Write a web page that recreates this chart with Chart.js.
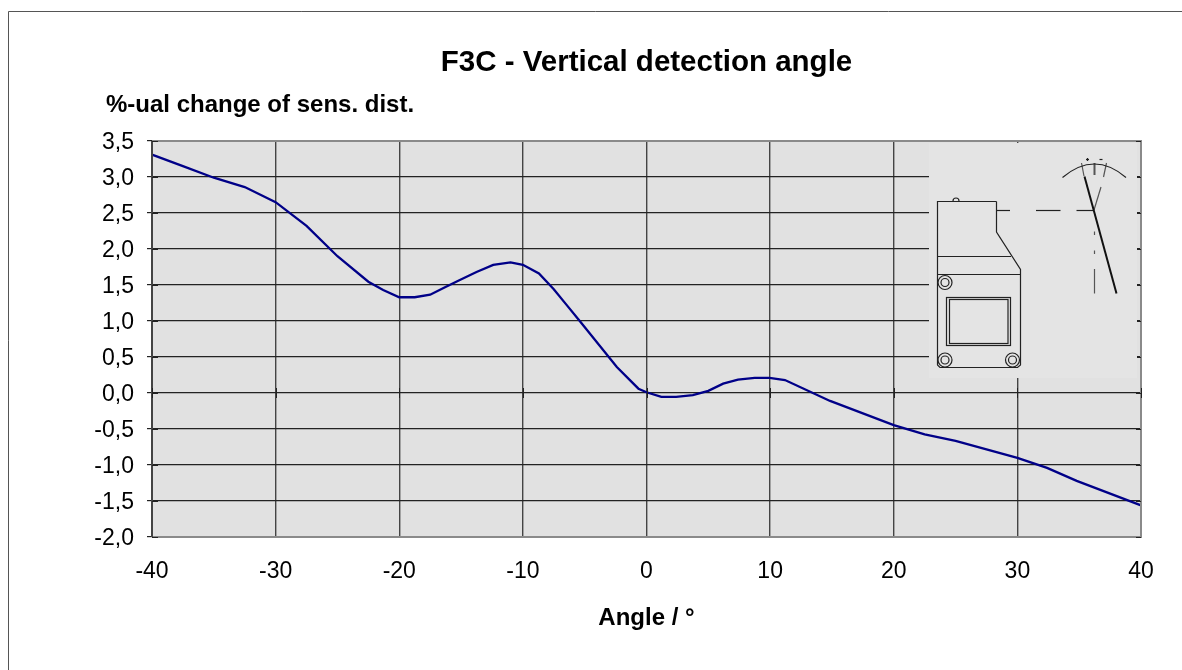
<!DOCTYPE html>
<html><head><meta charset="utf-8">
<style>html,body{margin:0;padding:0;background:#fff}#w{width:1182px;height:670px;position:relative}</style>
<script src="https://cdn.jsdelivr.net/npm/chart.js@4/dist/chart.umd.min.js"></script>
</head><body><div id="w"><canvas id="c" width="1182" height="670"></canvas></div>
<script>
const chartTitle = "F3C - Vertical detection angle";
const yAxisTitle = "%-ual change of sens. dist.";
const xAxisTitle = "Angle / °";
const angles = [-40,-37.5,-35,-32.5,-30,-27.5,-25,-22.5,-21.3,-20,-18.75,-17.5,-16.3,-15.1,-13.75,-12.4,-11,-10,-8.7,-7.5,-6.4,-5.4,-2.4,-0.65,0,1.2,2.4,3.75,5,6.2,7.4,8.75,9.95,11.2,14.85,20,22.5,25,30,32.4,34.8,40];
const sensChange = [3.31,3.15,2.99,2.86,2.65,2.32,1.9,1.546,1.43,1.33,1.33,1.365,1.47,1.57,1.68,1.78,1.815,1.78,1.66,1.44,1.21,1.0,0.36,0.06,0.01,-0.055,-0.055,-0.03,0.03,0.13,0.185,0.21,0.21,0.18,-0.11,-0.445,-0.575,-0.665,-0.9,-1.04,-1.22,-1.56];
const FONT = '"Liberation Sans", Arial, sans-serif';

const sheet = {
  id:'sheet',
  beforeDraw(ch){
    const {ctx,chartArea:a}=ch;
    ctx.save();
    ctx.fillStyle='#e1e1e1';
    ctx.fillRect(a.left,a.top,a.right-a.left,a.bottom-a.top);
    ctx.restore();
  },
  afterDatasetsDraw(ch){
    const {ctx,chartArea:a,scales:{x,y}}=ch;
    ctx.save();
    // plot border
    ctx.lineWidth=2; ctx.strokeStyle='#8a8a8a';
    ctx.beginPath();
    ctx.moveTo(a.left,a.top);ctx.lineTo(a.right,a.top);ctx.lineTo(a.right,a.bottom);ctx.lineTo(a.left,a.bottom);
    ctx.stroke();
    ctx.strokeStyle='#444';
    ctx.beginPath();ctx.moveTo(a.left,a.top);ctx.lineTo(a.left,a.bottom);ctx.stroke();
    // inner ticks on the y axis and along the zero line
    ctx.lineWidth=1; ctx.strokeStyle='#222';
    ctx.beginPath();
    y.ticks.forEach(t=>{const p=Math.round(y.getPixelForValue(t.value))+.5;
      ctx.moveTo(a.left,p);ctx.lineTo(a.left+6,p);
      ctx.moveTo(a.right-5,p);ctx.lineTo(a.right,p);});
    const z=y.getPixelForValue(0);
    x.ticks.forEach(t=>{const p=Math.round(x.getPixelForValue(t.value))+.5;
      ctx.moveTo(p,z-5);ctx.lineTo(p,z+5);});
    ctx.stroke();
    // sensor sketch
    ctx.fillStyle='#e4e4e4'; ctx.fillRect(929,143,208,235);
    ctx.strokeStyle='#222'; ctx.lineWidth=1.2;
    const L=(...p)=>{ctx.beginPath();ctx.moveTo(p[0],p[1]);for(let i=2;i<p.length;i+=2)ctx.lineTo(p[i],p[i+1]);ctx.stroke();};
    L(996.5,201.5,937.5,201.5,937.5,365,940,367.5,1017.5,367.5,1020.5,365,1020.5,269.5,996.5,232,996.5,201.5);
    L(937.5,256.5,1011,256.5);
    L(937.5,274.5,1020.5,274.5);
    ctx.beginPath();ctx.arc(956,201,3,Math.PI,0);ctx.stroke();
    [[945,282.5],[945,360],[1012.5,360]].forEach(([cx,cy])=>{
      ctx.beginPath();ctx.arc(cx,cy,7,0,7);ctx.stroke();
      ctx.beginPath();ctx.arc(cx,cy,4,0,7);ctx.stroke();});
    ctx.strokeRect(946.5,297.5,64,48);
    ctx.strokeRect(949.5,299.5,58.5,44);
    L(996.5,210.5,1010,210.5); L(1036,210.5,1060.5,210.5); L(1076.5,210.5,1094,210.5);
    ctx.strokeStyle='#555';
    L(1094.5,231.5,1094.5,235); L(1094.5,250.5,1094.5,254); L(1094.5,269,1094.5,293.5);
    L(1094,210,1101,187); L(1103.5,177,1106.5,163); L(1081.5,163,1084,176);
    ctx.lineWidth=2; L(1094.5,163,1094.5,175);
    ctx.lineWidth=2; ctx.strokeStyle='#111'; L(1084.5,176.5,1116.5,293.5);
    ctx.lineWidth=1.2; ctx.strokeStyle='#222';
    ctx.beginPath();ctx.moveTo(1062.5,177.5);ctx.quadraticCurveTo(1094.5,150.5,1126,177.5);ctx.stroke();
    L(1086,159.5,1089,159.5); L(1087.5,158,1087.5,161); L(1099.5,159.5,1102.5,159.5);
    // outer frame
    ctx.lineWidth=1; ctx.strokeStyle='#555'; L(8.5,670,8.5,11.5,1182,11.5);
    // y axis caption
    ctx.fillStyle='#000'; ctx.font='bold 24px '+FONT; ctx.textBaseline='alphabetic'; ctx.textAlign='left';
    ctx.fillText(yAxisTitle,106,112);
    ctx.restore();
  }
};

new Chart(document.getElementById('c'),{
  type:'scatter',
  data:{datasets:[{label:'Sensing distance change',data:angles.map((a,i)=>({x:a,y:sensChange[i]})),showLine:true,borderColor:'#000088',borderWidth:2.3,pointRadius:0,tension:0,fill:false,clip:false}]},
  plugins:[sheet],
  options:{
    responsive:false,animation:false,
    layout:{padding:{top:45.5,left:0,right:41,bottom:0}},
    plugins:{
      legend:{display:false},tooltip:{enabled:false},
      title:{display:true,text:chartTitle,fullSize:false,color:'#000',font:{family:FONT,size:29.5,weight:'bold'},padding:{top:0,bottom:60.1}}
    },
    scales:{
      x:{type:'linear',min:-40,max:40,
        ticks:{stepSize:10,color:'#000',font:{family:FONT,size:23},padding:21,maxRotation:0},
        grid:{color:'#444',lineWidth:1.4,tickLength:0,drawTicks:false},
        border:{display:false},
        title:{display:true,text:xAxisTitle,color:'#000',font:{family:FONT,size:24,weight:'bold'},padding:{top:22,bottom:37}},
        afterFit(s){s.height=133;}
      },
      y:{type:'linear',min:-2,max:3.5,
        ticks:{stepSize:0.5,color:'#000',font:{family:FONT,size:23},padding:13,labelOffset:1.5,callback:v=>v.toFixed(1).replace('.',',')},
        grid:{color:'#222',lineWidth:1.2,tickLength:5},
        border:{display:false},
        afterFit(s){s.width=152;}
      }
    }
  }
});
</script></body></html>
